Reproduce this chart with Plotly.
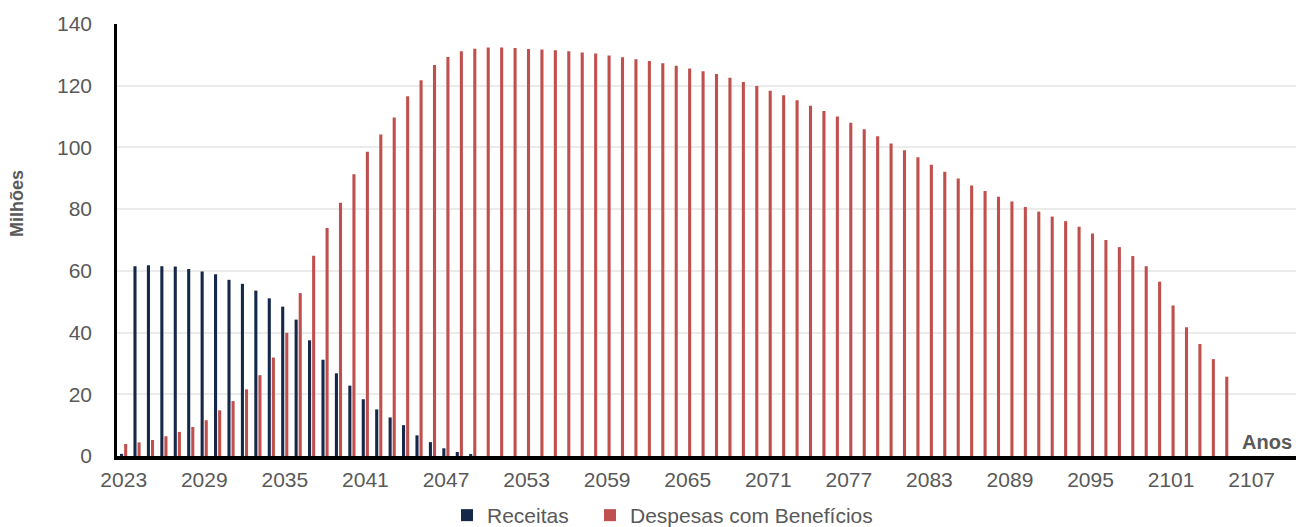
import plotly.graph_objects as go

years = list(range(2023, 2106))

receitas = [0.7, 61.5, 61.8, 61.5, 61.4, 60.6, 59.8, 58.9, 57.1, 55.8,
            53.6, 51.1, 48.4, 44.2, 37.5, 31.2, 26.8, 22.8, 18.4, 15.1,
            12.5, 10.0, 6.7, 4.5, 2.5, 1.3, 0.65] + [0] * 56

despesas = [3.9, 4.4, 5.2, 6.4, 7.8, 9.4, 11.6, 14.8, 17.8, 21.6,
            26.2, 31.9, 39.9, 52.8, 64.9, 73.9, 82.1, 91.3, 98.6, 104.2,
            109.7, 116.6, 121.8, 126.7, 129.3, 131.2, 132.0, 132.4, 132.4, 132.2,
            131.9, 131.7, 131.5, 131.2, 130.8, 130.4, 129.8, 129.2, 128.6, 128.0,
            127.3, 126.5, 125.6, 124.7, 123.8, 122.6, 121.2, 119.9, 118.4, 116.9,
            115.3, 113.5, 111.8, 110.0, 108.0, 105.9, 103.6, 101.3, 99.1, 96.8,
            94.4, 92.1, 89.9, 87.7, 85.9, 84.0, 82.5, 80.7, 79.2, 77.6,
            76.1, 74.3, 72.1, 70.0, 67.7, 64.8, 61.5, 56.5, 48.8, 41.7,
            36.3, 31.4, 25.7]

tick_years = list(range(2023, 2108, 6))

NAVY = "#15284a"
RED = "#c0504d"
GRAY = "#595959"
FONT = "Liberation Sans, Arial, sans-serif"
PW = 1179  # plot width px
PH = 432   # plot height px

fig = go.Figure()
fig.add_trace(go.Bar(x=years, y=receitas, name="Receitas", marker_color=NAVY,
                     marker_line_width=0, width=0.23, offset=-0.275, legend="legend"))
fig.add_trace(go.Bar(x=years, y=despesas, name="Despesas com Benefícios",
                     marker_color=RED, marker_line_width=0, width=0.23, offset=0.03,
                     legend="legend2"))

leg_common = dict(orientation="h", xanchor="left", yanchor="top",
                  font=dict(size=21, color=GRAY, family=FONT),
                  bgcolor="rgba(0,0,0,0)")
fig.update_layout(
    width=1296, height=527,
    margin=dict(l=117, r=0, t=24, b=71, autoexpand=False),
    plot_bgcolor="white", paper_bgcolor="white",
    barmode="overlay",
    font=dict(family=FONT, size=21, color=GRAY),
    legend=dict(x=(447 - 117) / PW, y=-(495 - 456) / PH, **leg_common),
    legend2=dict(x=(590 - 117) / PW, y=-(495 - 456) / PH, **leg_common),
    showlegend=True,
)
fig.update_xaxes(range=[2022.5, 2110.3], tickvals=tick_years,
                 ticktext=[str(t) for t in tick_years],
                 showgrid=False, showline=True, linecolor="black", linewidth=4,
                 ticks="", ticklabelstandoff=2, tickfont=dict(size=21, color=GRAY),
                 zeroline=False)
fig.update_yaxes(range=[0, 140], dtick=20, showgrid=True, gridcolor="#ebebeb",
                 gridwidth=2, showline=True, linecolor="black", linewidth=2.5,
                 zeroline=False, ticks="", ticklabelstandoff=18,
                 tickfont=dict(size=21, color=GRAY))
fig.add_annotation(text="<b>Milhões</b>", xref="paper", yref="paper",
                   x=-(117 - 17) / PW, y=(456 - 204) / PH, textangle=-90,
                   xanchor="center", yanchor="middle", showarrow=False,
                   font=dict(size=18, color=GRAY, family=FONT))
fig.add_annotation(text="<b>Anos</b>", xref="paper", yref="y", x=1.0, y=0,
                   xanchor="right", yanchor="bottom", xshift=-2, yshift=1, showarrow=False,
                   font=dict(size=20, color=GRAY, family=FONT))

fig.write_html("out.html", config={"displayModeBar": False},
               post_script="document.body.style.margin='0';document.body.style.overflow='hidden';")
